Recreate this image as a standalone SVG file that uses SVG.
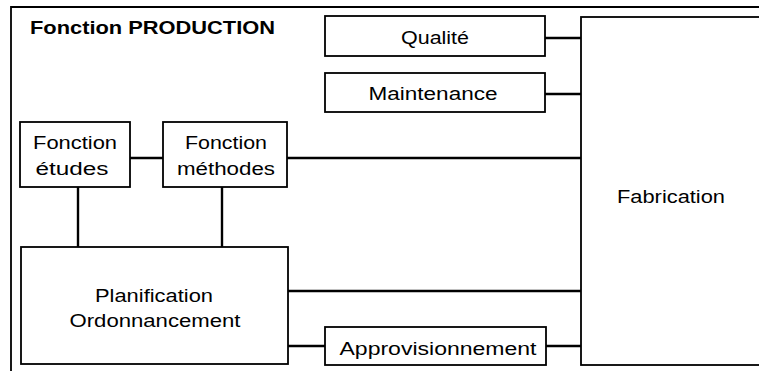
<svg xmlns="http://www.w3.org/2000/svg" width="759" height="371" viewBox="0 0 759 371">
<style>
.box{fill:#fff;stroke:#000;stroke-width:1.8}
.frame{fill:none;stroke:#000;stroke-width:1.8}
.conn line{stroke:#000;stroke-width:2.4}
text{font-family:"Liberation Sans",Arial,sans-serif;font-size:17.5px;fill:#000;text-anchor:middle}
.title{font-weight:bold;text-anchor:start;font-size:18.5px}
</style>
<rect width="759" height="371" fill="#fff"/>
<g id="frame">
<path class="frame" d="M11,380 V7 H770"/>
<text class="title" x="30" y="34" textLength="245" lengthAdjust="spacingAndGlyphs">Fonction PRODUCTION</text>
</g>
<g class="conn" id="connectors">
<line x1="545" y1="38" x2="581" y2="38"/>
<line x1="545" y1="94" x2="581" y2="94"/>
<line x1="130" y1="158" x2="163" y2="158"/>
<line x1="287" y1="158" x2="581" y2="158"/>
<line x1="78" y1="187" x2="78" y2="247"/>
<line x1="222" y1="187" x2="222" y2="247"/>
<line x1="288" y1="291" x2="581" y2="291"/>
<line x1="288" y1="346" x2="325" y2="346"/>
<line x1="546" y1="346" x2="581" y2="346"/>
</g>
<g id="qualite">
<rect class="box" x="325" y="16" width="220" height="40"/>
<text x="435" y="44" textLength="68" lengthAdjust="spacingAndGlyphs">Qualité</text>
</g>
<g id="maintenance">
<rect class="box" x="325" y="73" width="220" height="39"/>
<text x="433" y="100" textLength="129" lengthAdjust="spacingAndGlyphs">Maintenance</text>
</g>
<g id="etudes">
<rect class="box" x="20" y="122" width="110" height="65"/>
<text x="75" y="149" textLength="84" lengthAdjust="spacingAndGlyphs">Fonction</text>
<text x="72" y="175" textLength="73" lengthAdjust="spacingAndGlyphs">études</text>
</g>
<g id="methodes">
<rect class="box" x="163" y="122" width="124" height="65"/>
<text x="226" y="149" textLength="82" lengthAdjust="spacingAndGlyphs">Fonction</text>
<text x="226" y="175" textLength="98" lengthAdjust="spacingAndGlyphs">méthodes</text>
</g>
<g id="planification">
<rect class="box" x="21" y="247" width="267" height="117"/>
<text x="154" y="302" textLength="118" lengthAdjust="spacingAndGlyphs">Planification</text>
<text x="155" y="327" textLength="171" lengthAdjust="spacingAndGlyphs">Ordonnancement</text>
</g>
<g id="approvisionnement">
<rect class="box" x="325" y="327" width="221" height="38"/>
<text x="438" y="355" textLength="197" lengthAdjust="spacingAndGlyphs">Approvisionnement</text>
</g>
<g id="fabrication">
<rect class="box" x="581" y="17" width="200" height="348"/>
<text x="671" y="203" textLength="108" lengthAdjust="spacingAndGlyphs">Fabrication</text>
</g>
</svg>
